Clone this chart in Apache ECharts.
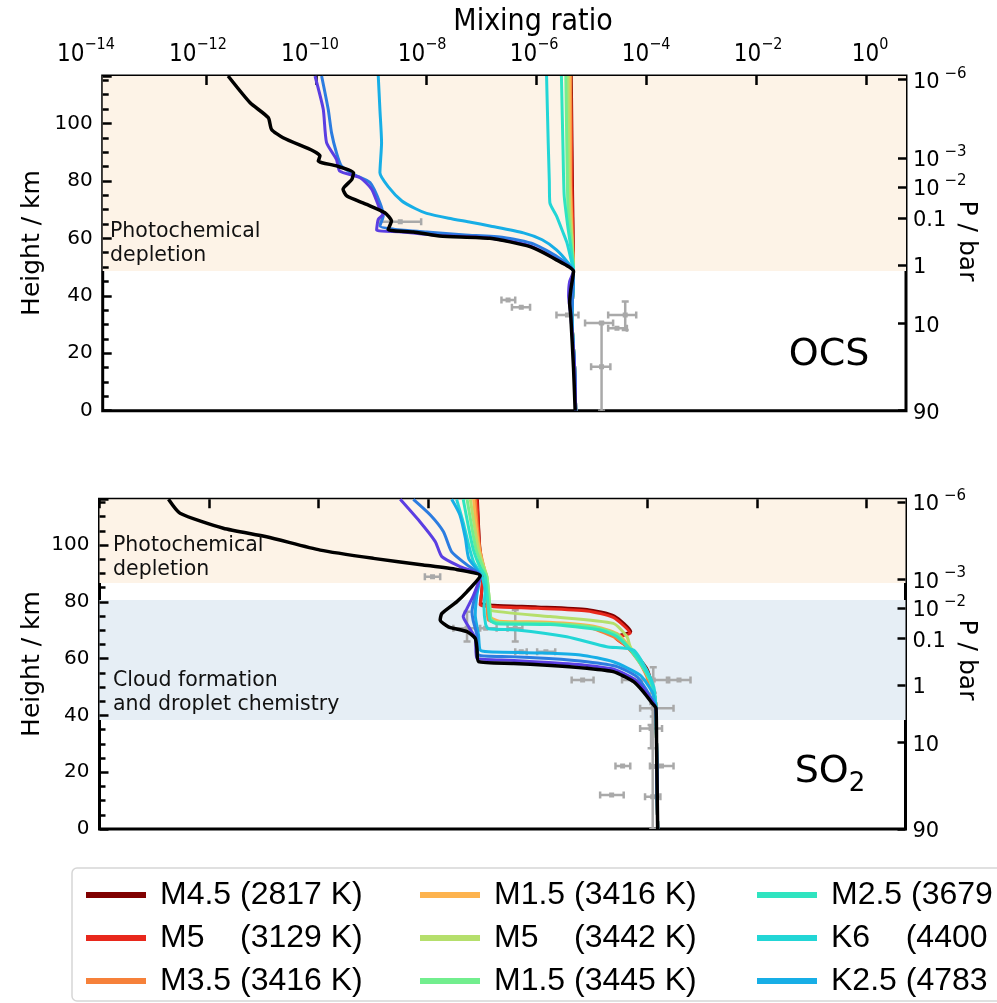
<!DOCTYPE html>
<html>
<head>
<meta charset="utf-8">
<script src="https://cdn.jsdelivr.net/npm/echarts@6/dist/echarts.min.js"></script>
<style>
  html, body { margin: 0; padding: 0; background: #fff; }
  #main { width: 997px; height: 1003px; }
</style>
</head>
<body>
<div id="main"></div>
<script>
// x values are log10(mixing ratio), y values are height in km
var xTickVals = [-14, -12, -10, -8, -6, -4, -2, 0];
var pressH = [115.2, 88.0, 77.9, 67.1, 50.7, 30.5, 0];
var pressLabels = ['10^-6', '10^-3', '10^-2', '0.1', '1', '10', '90'];

var starNames = ['M4.5 (2817 K)', 'M5    (3129 K)', 'M3.5 (3416 K)', 'M1.5 (3416 K)', 'M5    (3442 K)',
  'M1.5 (3445 K)', 'M2.5 (3679 K)', 'K6    (4400 K)', 'K2.5 (4783 K)'];
var extraNames = ['profile 10', 'profile 11', 'profile 12'];

// shaded regions [from km, to km]
var ocsBands = [[48.6, 116.5]];
var so2Bands = [[86.6, 116.1], [38.4, 80.6]];

// ---- OCS profiles [log10 x, km]
var ocsTropo = [[-5.34, 42], [-5.36, 33], [-5.31, 15], [-5.29, 0]];
var ocsM45 = [[-5.37, 116.5], [-5.35, 80], [-5.33, 48.5]];
var ocsM5 = [[-5.39, 116.5], [-5.37, 100], [-5.36, 80], [-5.34, 60], [-5.33, 48.5]];
var ocsM35 = [[-5.38, 116.5], [-5.38, 80], [-5.35, 60], [-5.33, 48.5]];
var ocsM15a = [[-5.40, 116.5], [-5.39, 80], [-5.36, 60], [-5.33, 48.5]];
var ocsM5b = [[-5.43, 116.5], [-5.42, 90], [-5.40, 70], [-5.36, 60], [-5.33, 48.5]];
var ocsM15b = [[-5.47, 116.5], [-5.45, 90], [-5.43, 70], [-5.38, 60], [-5.33, 48.5]];
var ocsM25 = [[-5.55, 116.5], [-5.52, 90], [-5.50, 75], [-5.44, 65], [-5.38, 57], [-5.33, 48.5]];
var ocsK6 = [[-5.82, 116.5], [-5.79, 93.3], [-5.77, 80], [-5.76, 72.4], [-5.64, 67.8], [-5.52, 62], [-5.45, 58.5],
  [-5.38, 53], [-5.33, 48.5]];
var ocsK25 = [[-8.88, 116.5], [-8.85, 104.9], [-8.82, 93.3], [-8.85, 82.8], [-8.70, 78], [-8.45, 73], [-8.2, 70.3],
  [-8.0, 68.7], [-7.6, 67.0], [-7.2, 65.6], [-6.85, 64.3], [-6.24, 61.9], [-5.9, 59.5], [-5.64, 56], [-5.45, 52],
  [-5.33, 48.5]];
var ocsBlue = [[-9.91, 116.5], [-9.79, 104.9], [-9.73, 96.8], [-9.64, 89.8], [-9.55, 85.2], [-9.33, 82.3], [-9.03, 79.4],
  [-8.85, 72.4], [-8.79, 67.8], [-8.85, 64.3], [-8.6, 63.2], [-8.0, 62.2], [-7.3, 61.2], [-6.6, 60.3], [-6.05, 58.0],
  [-5.62, 53.5], [-5.33, 48.5]];
var ocsPurple = [[-10.03, 116.5], [-9.88, 104.9], [-9.82, 93.3], [-9.64, 87.5], [-9.58, 83.4], [-9.21, 81.1], [-9.0, 77.1],
  [-8.85, 70.1], [-8.79, 68.4], [-8.88, 66.6], [-8.91, 62.9], [-8.5, 62.3], [-7.8, 61.0], [-6.9, 60.2], [-6.15, 57.5],
  [-5.65, 52.8], [-5.33, 48.5], [-5.40, 45], [-5.42, 40], [-5.38, 33], [-5.31, 15], [-5.29, 0]];
var ocsBlack = [[-11.61, 116.5], [-11.21, 107.2], [-10.88, 102.0], [-10.82, 97.9], [-10.61, 95.0], [-10.06, 90.4],
  [-9.94, 88.7], [-9.97, 86.9], [-9.64, 85.2], [-9.33, 82.8], [-9.36, 80.5], [-9.52, 77.1], [-9.45, 74.7], [-9.09, 71.8],
  [-8.76, 68.9], [-8.64, 66.0], [-8.70, 63.1], [-8.24, 62.2], [-7.76, 60.8], [-6.85, 60.0], [-6.12, 57.1], [-5.64, 52.5],
  [-5.33, 48.5], [-5.38, 42], [-5.40, 37.5], [-5.38, 33], [-5.33, 15], [-5.30, 0]];

// ---- SO2 profiles
var so2Tropo = [[-3.84, 42.5], [-3.83, 30], [-3.81, 0]];
var so2M45 = [[-7.10, 116.1], [-7.06, 100], [-7.0, 89.5], [-7.02, 84], [-7.04, 79.5], [-6.8, 78.8], [-6.0, 78.2],
  [-5.1, 77.3], [-4.6, 75.0], [-4.3, 69.5], [-4.55, 67.8], [-4.35, 64.5], [-4.0, 56.2], [-3.89, 49], [-3.85, 45]];
var so2M5 = [[-7.11, 116.1], [-7.08, 105.9], [-7.05, 93.0], [-7.0, 89.5], [-7.02, 84], [-7.05, 78.9], [-6.8, 78.3],
  [-6.0, 77.7], [-5.10, 76.8], [-4.62, 74.5], [-4.31, 68.9], [-4.58, 67.3], [-4.37, 64.2], [-4.01, 56.0], [-3.89, 48.9],
  [-3.85, 45]];
var so2M35 = [[-7.14, 116.1], [-7.10, 106], [-7.05, 98], [-6.98, 92], [-6.95, 89], [-6.93, 84], [-6.92, 78], [-6.90, 73.6],
  [-6.7, 72.6], [-5.77, 72.3], [-5.10, 71.2], [-4.62, 67.7], [-4.37, 64.2], [-4.13, 58.3], [-3.95, 51], [-3.86, 45]];
var so2M15a = [[-7.17, 116.1], [-7.12, 106], [-7.06, 98], [-6.98, 92], [-6.93, 89], [-6.9, 84], [-6.88, 78], [-6.86, 74.5],
  [-6.7, 73.2], [-5.8, 72.8], [-5.0, 71.5], [-4.55, 68.8], [-4.3, 63.5], [-4.05, 56], [-3.9, 50], [-3.85, 45]];
var so2M5b = [[-7.23, 116.1], [-7.15, 106], [-7.08, 98], [-6.98, 92], [-6.93, 89], [-6.90, 84], [-6.88, 79], [-6.87, 77.1],
  [-5.77, 74.8], [-4.62, 72.4], [-4.37, 67.7], [-4.31, 64.2], [-4.1, 58], [-3.95, 52.5], [-3.87, 47], [-3.85, 45]];
var so2M15b = [[-7.29, 116.1], [-7.20, 106], [-7.12, 98], [-7.0, 92], [-6.93, 89], [-6.90, 84], [-6.87, 78], [-6.85, 74],
  [-6.75, 72.8], [-5.77, 72.4], [-4.95, 71.0], [-4.55, 68.5], [-4.3, 63], [-4.02, 55], [-3.89, 49.5], [-3.85, 45]];
var so2M25 = [[-7.36, 116.1], [-7.26, 106], [-7.17, 98], [-7.05, 92], [-6.96, 89], [-6.93, 84], [-6.90, 78], [-6.87, 73.5],
  [-6.75, 72.3], [-5.77, 72.0], [-4.86, 70.1], [-4.55, 67.7], [-4.25, 61.9], [-4.0, 54.5], [-3.88, 49], [-3.85, 45]];
var so2K6 = [[-7.48, 116.1], [-7.36, 108], [-7.26, 100], [-7.17, 94], [-7.02, 89.2], [-6.96, 84], [-6.98, 78], [-6.95, 72],
  [-6.90, 70.5], [-6.38, 70.1], [-5.47, 67.7], [-4.74, 64.2], [-4.25, 63.0], [-4.01, 56.0], [-3.88, 50], [-3.85, 45]];
var so2K25 = [[-7.57, 116.1], [-7.42, 110.6], [-7.32, 102.4], [-7.26, 95.3], [-7.05, 89.2], [-7.11, 82.4], [-7.14, 75.4],
  [-7.08, 68.3], [-7.05, 63.0], [-6.9, 62.4], [-6.0, 62.0], [-5.22, 61.3], [-4.62, 58.9], [-4.13, 54.2], [-3.91, 48.3],
  [-3.85, 44.0]];
var so2Blue = [[-8.27, 116.1], [-7.96, 110.6], [-7.72, 104.7], [-7.57, 97.6], [-7.29, 93.0], [-7.05, 89.2], [-7.14, 82.4],
  [-7.20, 76.5], [-7.18, 73.6], [-7.11, 68.3], [-7.08, 61.3], [-6.5, 60.7], [-5.8, 60.0], [-5.1, 58.9], [-4.55, 57.2],
  [-4.18, 53.5], [-4.0, 48.5], [-3.87, 44.0]];
var so2Purple = [[-8.51, 116.1], [-8.15, 108.2], [-7.87, 101.2], [-7.75, 95.9], [-7.42, 92.4], [-7.05, 89.2], [-7.17, 82.4],
  [-7.29, 77.7], [-7.36, 74.8], [-7.26, 71.2], [-7.14, 67.1], [-7.11, 60.1], [-6.5, 59.4], [-5.8, 58.6], [-5.1, 57.6],
  [-4.6, 56.2], [-4.22, 52.5], [-4.02, 48.3], [-3.88, 44.0]];
var so2Black = [[-12.74, 116.1], [-12.53, 111.2], [-11.74, 105.9], [-10.95, 102.9], [-9.97, 98.2], [-9.0, 95.3],
  [-8.09, 93.0], [-7.48, 91.4], [-7.05, 89.2], [-7.29, 83.6], [-7.48, 80.0], [-7.75, 75.9], [-7.78, 73.6], [-7.63, 71.2],
  [-7.29, 69.5], [-7.14, 67.1], [-7.11, 63.6], [-7.08, 58.9], [-6.44, 58.3], [-5.83, 57.7], [-5.10, 56.6], [-4.62, 55.4],
  [-4.25, 51.9], [-4.07, 48.3], [-3.91, 44.3]];

// observations: [x centre, km, x low, x high, km low, km high]
var ocsObs = [
  [-8.48, 65.8, -8.85, -8.10, 65.8, 65.8],
  [-6.52, 38.5, -6.64, -6.39, 38.5, 38.5],
  [-6.28, 36.0, -6.45, -6.12, 36.0, 36.0],
  [-5.44, 33.3, -5.64, -5.24, 33.3, 33.3],
  [-4.82, 15.3, -5.01, -4.66, 0, 30.5],
  [-4.82, 30.5, -5.12, -4.61, 30.5, 30.5],
  [-4.39, 33.3, -4.70, -4.19, 28.1, 38.0],
  [-4.54, 28.7, -4.70, -4.36, 28.7, 28.7]
];
var so2Obs = [
  [-7.92, 88.8, -8.06, -7.78, 88.8, 88.8],
  [-7.29, 70.7, -7.54, -7.05, 66.0, 76.5],
  [-6.95, 70.7, -7.11, -6.75, 70.7, 70.7],
  [-6.41, 70.7, -6.55, -6.28, 66.0, 77.1],
  [-6.30, 62.4, -6.41, -6.20, 62.4, 62.4],
  [-5.85, 62.4, -6.01, -5.68, 62.4, 62.4],
  [-5.18, 52.5, -5.38, -4.98, 52.5, 52.5],
  [-4.25, 52.5, -4.46, -4.00, 52.5, 52.5],
  [-3.89, 52.5, -4.10, -3.60, 48.0, 57.0],
  [-3.42, 52.5, -3.64, -3.21, 52.5, 52.5],
  [-3.89, 42.5, -4.13, -3.52, 39.6, 44.3],
  [-3.93, 35.4, -4.13, -3.73, 28.4, 36.6],
  [-4.45, 22.2, -4.58, -4.31, 22.2, 22.2],
  [-3.74, 22.2, -3.95, -3.52, 22.2, 22.2],
  [-4.65, 12.0, -4.86, -4.43, 12.0, 12.0],
  [-3.90, 11.4, -4.04, -3.76, 11.4, 11.4],
  [-3.90, 22.0, -3.90, -3.90, 0, 44.0]
];

var colors = ['#800000', '#e8281c', '#f6813a', '#fdb34e', '#b5df6c', '#72ee8e', '#2fe4c0', '#22d6d6', '#17aee6',
  '#2c7ce0', '#5b3ee2', '#000000'];
var ocsProfiles = [ocsM45.concat(ocsTropo), ocsM5.concat(ocsTropo), ocsM35.concat(ocsTropo), ocsM15a.concat(ocsTropo),
  ocsM5b.concat(ocsTropo), ocsM15b.concat(ocsTropo), ocsM25.concat(ocsTropo), ocsK6.concat(ocsTropo),
  ocsK25.concat(ocsTropo), ocsBlue.concat(ocsTropo), ocsPurple, ocsBlack];
var so2Profiles = [so2M45, so2M5, so2M35, so2M15a, so2M5b, so2M15b, so2M25, so2K6, so2K25, so2Blue, so2Purple, so2Black]
  .map(function (p) { return p.concat(so2Tropo); });

var narrow = "'Liberation Sans Narrow', 'DejaVu Sans Condensed', 'Liberation Sans', sans-serif";
var arial = "'Liberation Sans', Arial, sans-serif";
var dejavu = "'DejaVu Sans', sans-serif";
var bandColors = { ocs: ['#fdf3e7'], so2: ['#fdf3e7', '#e6eef5'] };

var myChart = echarts.init(document.getElementById('main'));

function bandItem(key) {
  return function (params, api) {
    var cs = params.coordSys;
    var y0 = api.coord([-6, api.value(0)])[1];
    var y1 = api.coord([-6, api.value(1)])[1];
    return {
      type: 'rect',
      shape: { x: cs.x, y: y1, width: cs.width, height: y0 - y1 },
      style: { fill: bandColors[key][params.dataIndex] }
    };
  };
}

function obsItem(params, api) {
  var xc = api.value(0), h = api.value(1), xl = api.value(2), xh = api.value(3), hl = api.value(4), hh = api.value(5);
  var st = { stroke: '#a9a9a9', lineWidth: 2.5 };
  var kids = [];
  if (xh > xl) {
    var l = api.coord([xl, h]), r = api.coord([xh, h]);
    kids.push({ type: 'line', shape: { x1: l[0], y1: l[1], x2: r[0], y2: r[1] }, style: st });
    kids.push({ type: 'line', shape: { x1: l[0], y1: l[1] - 3.5, x2: l[0], y2: l[1] + 3.5 }, style: st });
    kids.push({ type: 'line', shape: { x1: r[0], y1: r[1] - 3.5, x2: r[0], y2: r[1] + 3.5 }, style: st });
  }
  if (hh > hl) {
    var b = api.coord([xc, hl]), t = api.coord([xc, hh]);
    kids.push({ type: 'line', shape: { x1: b[0], y1: b[1], x2: t[0], y2: t[1] }, style: st });
    kids.push({ type: 'line', shape: { x1: b[0] - 3.5, y1: b[1], x2: b[0] + 3.5, y2: b[1] }, style: st });
    kids.push({ type: 'line', shape: { x1: t[0] - 3.5, y1: t[1], x2: t[0] + 3.5, y2: t[1] }, style: st });
  }
  var c = api.coord([xc, h]);
  kids.push({ type: 'rect', shape: { x: c[0] - 2.5, y: c[1] - 2.5, width: 5, height: 5 }, style: { fill: '#a9a9a9' } });
  return { type: 'group', children: kids };
}

function pressLabel(v) {
  var i = pressH.findIndex(function (p) { return Math.abs(p - v) < 0.01; });
  if (i < 0) return '';
  var s = pressLabels[i];
  if (s.indexOf('10^') === 0) return '{b|10}{s| ' + s.slice(3).replace('-', '\u2212') + '}';
  return '{b|' + s + '}';
}

function panelAxes(gi, minX, maxY) {
  return {
    x: {
      gridIndex: gi, type: 'value', position: 'top', min: minX, max: 0.715,
      axisLine: { show: false, onZero: false }, splitLine: { show: false }, axisLabel: { show: false },
      axisTick: { inside: true, length: 9, lineStyle: { color: '#000', width: 2.5 }, customValues: xTickVals }
    },
    yl: {
      gridIndex: gi, type: 'value', min: 0, max: maxY, interval: 20, position: 'left',
      axisLine: { show: false, onZero: false }, splitLine: { show: false },
      axisTick: { inside: true, length: 9, lineStyle: { color: '#000', width: 2.5 } },
      minorTick: { show: true, splitNumber: 4, length: 6, lineStyle: { color: '#000', width: 2.5 } },
      axisLabel: {
        margin: 10, color: '#000', fontSize: 20, fontFamily: dejavu, showMaxLabel: false,
        formatter: function (v) { return v % 20 === 0 ? String(v) : ''; }
      }
    },
    yr: {
      gridIndex: gi, type: 'value', min: 0, max: maxY, position: 'right',
      axisLine: { show: false, onZero: false }, splitLine: { show: false },
      axisTick: { inside: true, length: 8, lineStyle: { color: '#000', width: 2.5 }, customValues: pressH },
      axisLabel: {
        customValues: pressH, margin: 7, color: '#000', formatter: pressLabel,
        rich: {
          b: { fontSize: 21, fontFamily: dejavu, color: '#000', lineHeight: 27, verticalAlign: 'bottom' },
          s: { fontSize: 15, fontFamily: dejavu, color: '#000', lineHeight: 15, verticalAlign: 'top' }
        }
      }
    }
  };
}

var ocsAx = panelAxes(0, -13.89, 116.5);
var so2Ax = panelAxes(1, -14, 116.1);

var series = [
  { type: 'custom', xAxisIndex: 0, yAxisIndex: 0, z: 0, silent: true, renderItem: bandItem('ocs'), data: ocsBands },
  { type: 'custom', xAxisIndex: 1, yAxisIndex: 2, z: 0, silent: true, renderItem: bandItem('so2'), data: so2Bands },
  { type: 'custom', xAxisIndex: 0, yAxisIndex: 0, z: 2, silent: true, renderItem: obsItem, data: ocsObs, clip: true },
  { type: 'custom', xAxisIndex: 1, yAxisIndex: 2, z: 2, silent: true, renderItem: obsItem, data: so2Obs, clip: true }
];
var allNames = starNames.concat(extraNames);
[[ocsProfiles, 0, 0], [so2Profiles, 1, 2]].forEach(function (set) {
  set[0].forEach(function (pts, i) {
    series.push({
      name: allNames[i], type: 'line', xAxisIndex: set[1], yAxisIndex: set[2], z: 3 + i * 0.01,
      color: colors[i], showSymbol: false, symbol: 'none', silent: true, clip: true, smooth: 0.2,
      lineStyle: { color: colors[i], width: i === 11 ? 3.5 : 3, join: 'round' },
      data: pts
    });
  });
});

function legendCol(names, left) {
  return {
    data: names, orient: 'vertical', left: left, top: 873, itemGap: 9, selectedMode: false,
    icon: 'rect', itemWidth: 60, itemHeight: 6,
    textStyle: { fontSize: 32, fontFamily: arial, color: '#000', padding: [0, 0, 0, 9], lineHeight: 34 }
  };
}

myChart.setOption({
  animation: false,
  backgroundColor: '#fff',
  grid: [
    { left: 102.7, top: 76, width: 803.3, height: 334.7, show: true, borderColor: '#000', borderWidth: 3 },
    { left: 99.5, top: 499.3, width: 806, height: 329.7, show: true, borderColor: '#000', borderWidth: 3 },
    { left: 86, top: 76, width: 784, height: 1, show: false }
  ],
  xAxis: [ocsAx.x, so2Ax.x, {
    gridIndex: 2, type: 'value', position: 'top', min: -14, max: 0, interval: 2,
    axisLine: { show: false, onZero: false }, axisTick: { show: false }, splitLine: { show: false },
    axisLabel: {
      margin: 9,
      formatter: function (v) { return '{b|10}{s|' + (v < 0 ? '\u2212' + (-v) : '0') + '}'; },
      rich: {
        b: { fontSize: 24, fontFamily: narrow, color: '#000', lineHeight: 30, verticalAlign: 'bottom' },
        s: { fontSize: 16, fontFamily: narrow, color: '#000', lineHeight: 16, verticalAlign: 'top' }
      }
    }
  }],
  yAxis: [ocsAx.yl, ocsAx.yr, so2Ax.yl, so2Ax.yr, { gridIndex: 2, type: 'value', show: false }],
  legend: [
    legendCol(starNames.slice(0, 3), 81),
    legendCol(starNames.slice(3, 6), 415),
    legendCol(starNames.slice(6, 9), 752)
  ],
  graphic: [
    { type: 'rect', z: 0, shape: { x: 72, y: 868, width: 960, height: 133, r: 5 },
      style: { fill: '#fff', stroke: '#d6d6d6', lineWidth: 1.5 } },
    { type: 'text', x: 533, y: 22, z: 5,
      style: { text: 'Mixing ratio', font: '30px ' + narrow, fill: '#000', align: 'center', verticalAlign: 'middle' } },
    { type: 'text', x: 32, y: 243, rotation: Math.PI / 2, z: 5,
      style: { text: 'Height / km', font: '25px ' + dejavu, fill: '#000', align: 'center', verticalAlign: 'middle' } },
    { type: 'text', x: 32, y: 664, rotation: Math.PI / 2, z: 5,
      style: { text: 'Height / km', font: '25px ' + dejavu, fill: '#000', align: 'center', verticalAlign: 'middle' } },
    { type: 'text', x: 966, y: 241, rotation: -Math.PI / 2, z: 5,
      style: { text: 'P / bar', font: '25px ' + dejavu, fill: '#000', align: 'center', verticalAlign: 'middle' } },
    { type: 'text', x: 966, y: 660, rotation: -Math.PI / 2, z: 5,
      style: { text: 'P / bar', font: '25px ' + dejavu, fill: '#000', align: 'center', verticalAlign: 'middle' } },
    { type: 'text', x: 110, y: 244, z: 5,
      style: { text: 'Photochemical\ndepletion', font: '20.5px ' + dejavu, lineHeight: 24, fill: '#111', verticalAlign: 'middle' } },
    { type: 'text', x: 113, y: 558, z: 5,
      style: { text: 'Photochemical\ndepletion', font: '20.5px ' + dejavu, lineHeight: 24, fill: '#111', verticalAlign: 'middle' } },
    { type: 'text', x: 113, y: 693, z: 5,
      style: { text: 'Cloud formation\nand droplet chemistry', font: '20.5px ' + dejavu, lineHeight: 24, fill: '#111', verticalAlign: 'middle' } },
    { type: 'text', x: 829, y: 355, z: 5,
      style: { text: 'OCS', font: '38px ' + dejavu, fill: '#000', align: 'center', verticalAlign: 'middle' } },
    { type: 'text', x: 830, y: 775, z: 5,
      style: { text: '{a|SO}{b|2}', font: '38px ' + dejavu, fill: '#000', align: 'center', verticalAlign: 'middle',
        rich: { a: { font: '38px ' + dejavu, lineHeight: 44, verticalAlign: 'top' },
                b: { font: '26px ' + dejavu, lineHeight: 26, verticalAlign: 'bottom' } } } }
  ],
  series: series
});
</script>
</body>
</html>
